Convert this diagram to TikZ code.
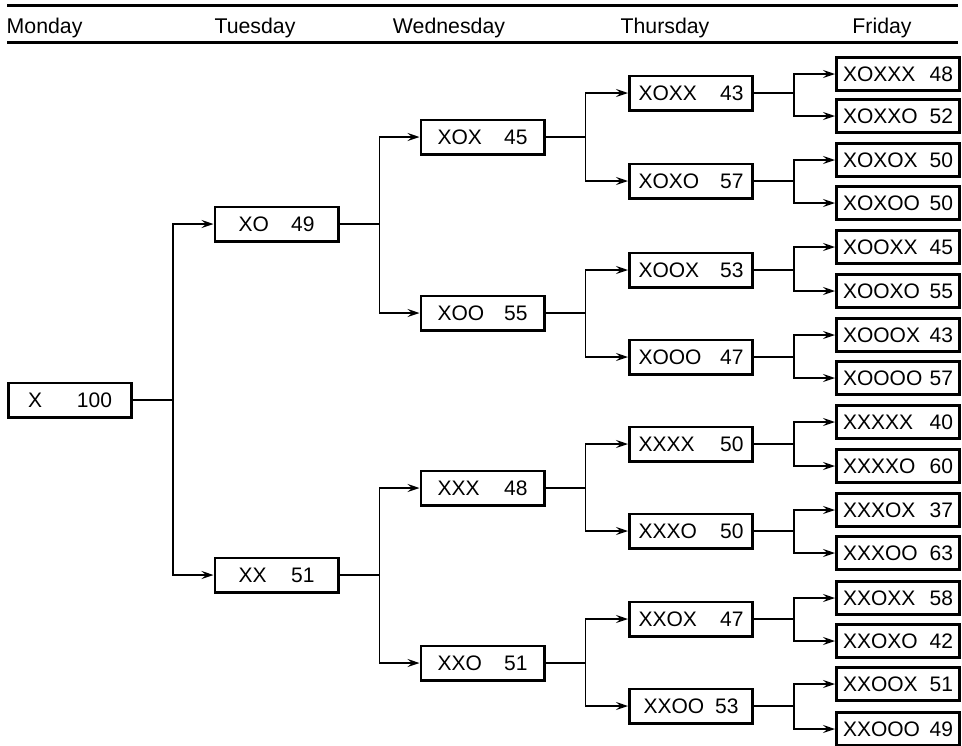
\documentclass[tikz,border=0pt]{standalone}
\usepackage{fontspec}
\setmainfont{Liberation Sans}
\usetikzlibrary{arrows.meta}
\newcommand\cellrow[3]{\hbox to #1{#2\hfill #3}}
\begin{document}
\begin{tikzpicture}[x=1pt,y=-1pt,
 box/.style={draw, line width=2.6pt, minimum width=123.4pt, minimum height=34.4pt, inner sep=0pt, font=\fontsize{21}{24}\selectfont},
 fri/.style={box, minimum height=33.4pt},
 hdr/.style={anchor=base, inner sep=0pt, font=\fontsize{21.3}{24}\selectfont},
 rulel/.style={line width=3pt},
 conn/.style={line width=1.7pt, -{Stealth[length=12pt,width=8pt,inset=4.5pt]}}]
\useasboundingbox (0,0) rectangle (962,745);
% header
\coordinate (r1a) at (7,5); \coordinate (r1b) at (958,5);
\coordinate (r2a) at (7,42.5); \coordinate (r2b) at (958,42.5);
\draw[rulel] (r1a) -- (r1b);
\draw[rulel] (r2a) -- (r2b);
\node[hdr, anchor=base west] (hmon) at (6.5,33) {Monday};
\node[hdr] (htue) at (255,33) {Tuesday};
\node[hdr] (hwed) at (449,33) {Wednesday};
\node[hdr] (hthu) at (665,33) {Thursday};
\node[hdr] (hfri) at (882,33) {Friday};
% Monday
\node[box] (m) at (70,400) {\cellrow{84pt}{X}{100}};
% Tuesday
\node[box] (t1) at (276.5,224) {\cellrow{76pt}{XO}{49}};
\node[box] (t2) at (276.5,575) {\cellrow{76pt}{XX}{51}};
% Wednesday
\node[box] (w1) at (482.5,137) {\cellrow{90pt}{XOX}{45}};
\node[box] (w2) at (482.5,313) {\cellrow{90pt}{XOO}{55}};
\node[box] (w3) at (482.5,488) {\cellrow{90pt}{XXX}{48}};
\node[box] (w4) at (482.5,663) {\cellrow{90pt}{XXO}{51}};
% Thursday
\node[box] (h1) at (691,93) {\cellrow{105pt}{XOXX}{43}};
\node[box] (h2) at (691,181) {\cellrow{105pt}{XOXO}{57}};
\node[box] (h3) at (691,270) {\cellrow{105pt}{XOOX}{53}};
\node[box] (h4) at (691,357) {\cellrow{105pt}{XOOO}{47}};
\node[box] (h5) at (691,444) {\cellrow{105pt}{XXXX}{50}};
\node[box] (h6) at (691,531) {\cellrow{105pt}{XXXO}{50}};
\node[box] (h7) at (691,619) {\cellrow{105pt}{XXOX}{47}};
\node[box] (h8) at (691,706) {\cellrow{95pt}{XXOO}{53}};
% Friday
\node[fri] (f1) at (898,74) {\cellrow{110pt}{XOXXX}{48}};
\node[fri] (f2) at (898,116) {\cellrow{110pt}{XOXXO}{52}};
\node[fri] (f3) at (898,160) {\cellrow{110pt}{XOXOX}{50}};
\node[fri] (f4) at (898,203) {\cellrow{110pt}{XOXOO}{50}};
\node[fri] (f5) at (898,247) {\cellrow{110pt}{XOOXX}{45}};
\node[fri] (f6) at (898,291) {\cellrow{110pt}{XOOXO}{55}};
\node[fri] (f7) at (898,335) {\cellrow{110pt}{XOOOX}{43}};
\node[fri] (f8) at (898,378) {\cellrow{110pt}{XOOOO}{57}};
\node[fri] (f9) at (898,422) {\cellrow{110pt}{XXXXX}{40}};
\node[fri] (f10) at (898,466) {\cellrow{110pt}{XXXXO}{60}};
\node[fri] (f11) at (898,510) {\cellrow{110pt}{XXXOX}{37}};
\node[fri] (f12) at (898,553) {\cellrow{110pt}{XXXOO}{63}};
\node[fri] (f13) at (898,598) {\cellrow{110pt}{XXOXX}{58}};
\node[fri] (f14) at (898,641) {\cellrow{110pt}{XXOXO}{42}};
\node[fri] (f15) at (898,684) {\cellrow{110pt}{XXOOX}{51}};
\node[fri] (f16) at (898,729) {\cellrow{110pt}{XXOOO}{49}};
% connectors
\foreach \p/\a/\b in {m/t1/t2, t1/w1/w2, t2/w3/w4,
  w1/h1/h2, w2/h3/h4, w3/h5/h6, w4/h7/h8,
  h1/f1/f2, h2/f3/f4, h3/f5/f6, h4/f7/f8,
  h5/f9/f10, h6/f11/f12, h7/f13/f14, h8/f15/f16}{
  \draw[conn] (\p.east) -- ++(40,0) |- (\a);
  \draw[conn] (\p.east) -- ++(40,0) |- (\b);
}
\end{tikzpicture}
\end{document}
